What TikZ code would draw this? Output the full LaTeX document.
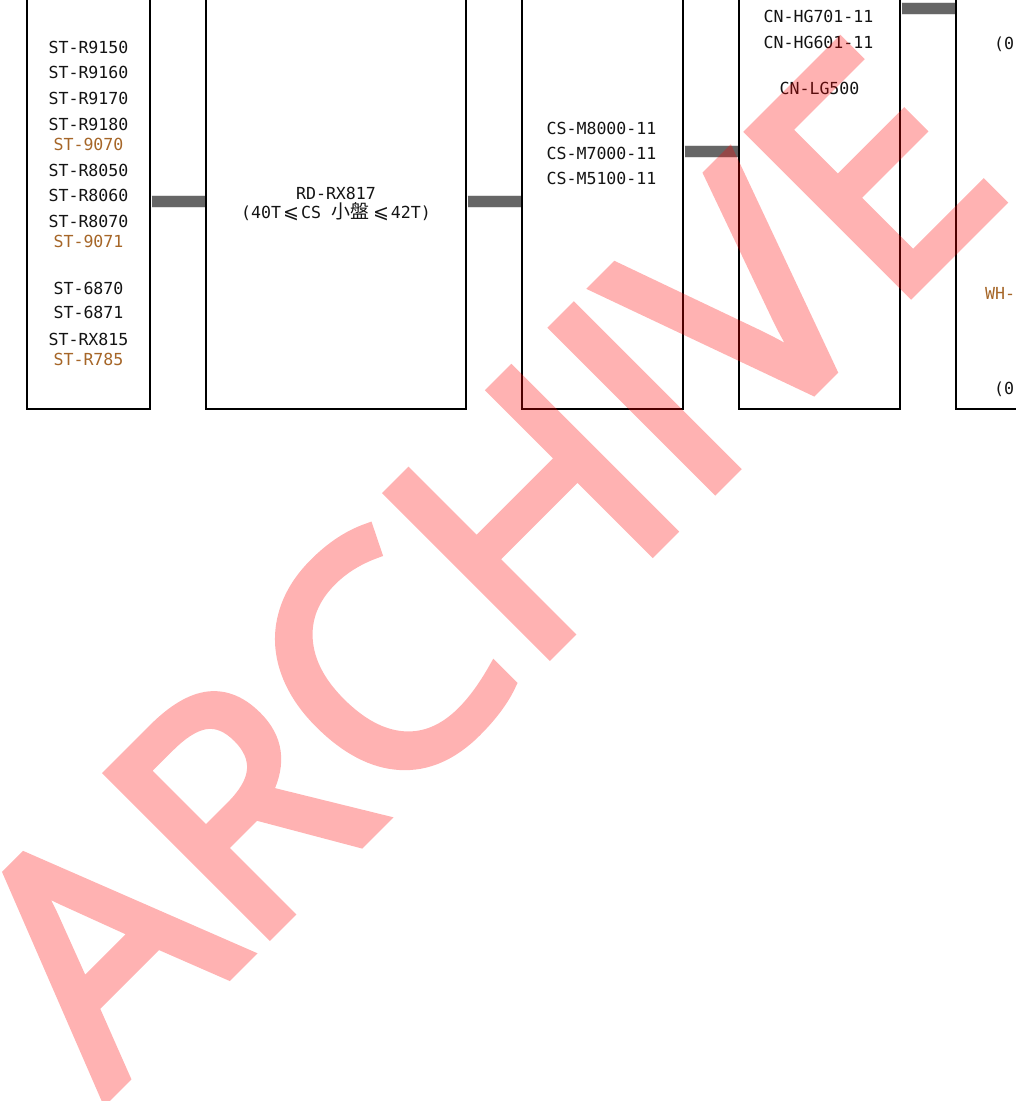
\documentclass[tikz,border=0pt]{standalone}
\usepackage{fontspec}
\newfontfamily\lblfont{DejaVu Sans Mono}
\newfontfamily\cjkfont{Noto Sans CJK TC}
\newfontfamily\symfont{DejaVu Sans}
\newfontfamily\wmfont[FakeBold=3.5]{Open Sans}
\definecolor{brn}{RGB}{166,102,40}
\definecolor{bargray}{RGB}{102,102,102}
\definecolor{ink}{RGB}{20,20,20}
\tikzset{
  box/.style={draw=black, line width=1.8pt, minimum height=416pt, inner sep=0pt, outer sep=0pt},
  lbl/.style={font=\lblfont\fontsize{16.6}{16.6}\selectfont, inner sep=0pt, text height=12pt, text depth=0pt, text=ink},
  bar/.style={line width=11pt, draw=bargray, shorten <=1.5pt, shorten >=1.5pt},
  barhalo/.style={line width=13pt, draw=black!12, shorten <=1.5pt, shorten >=1.5pt},
  wm/.style={font=\wmfont\fontsize{317}{317}\selectfont, text=red, inner sep=0pt, outer sep=0pt}
}
\newcommand{\leqsl}{\makebox[20pt]{\symfont\fontsize{19}{19}\selectfont ⩽}}
\begin{document}
\begin{tikzpicture}[x=1pt,y=-1pt]
\useasboundingbox (0,0) rectangle (1016,1101);
\clip (0,0) rectangle (1016,1101);
\fill[white] (0,0) rectangle (1016,1101);

% boxes
\node[box, minimum width=123pt] (b1) at (88.5,201) {};
\node[box, minimum width=260pt] (b2) at (336,201) {};
\node[box, minimum width=161pt] (b3) at (602.5,201) {};
\node[box, minimum width=161pt] (b4) at (819.5,201) {};
\node[box, minimum width=161pt] (b5) at (1036.5,201) {};

% connector bars
\draw[barhalo] (b1.east) -- (b2.west);
\draw[bar] (b1.east) -- (b2.west);
\draw[barhalo] (b2.east) -- (b3.west);
\draw[bar] (b2.east) -- (b3.west);
\draw[barhalo] ([yshift=50pt]b3.east) -- ([yshift=50pt]b4.west);
\draw[bar] ([yshift=50pt]b3.east) -- ([yshift=50pt]b4.west);
\draw[barhalo] ([yshift=193pt]b4.east) -- ([yshift=193pt]b5.west);
\draw[bar] ([yshift=193pt]b4.east) -- ([yshift=193pt]b5.west);

% box 1 labels
\foreach \yy/\tt/\cc [count=\i] in {
  47/ST-R9150/ink, 72/ST-R9160/ink, 98/ST-R9170/ink, 124/ST-R9180/ink,
  144/ST-9070/brn, 170/ST-R8050/ink, 195/ST-R8060/ink, 221/ST-R8070/ink,
  241/ST-9071/brn, 288/ST-6870/ink, 312/ST-6871/ink, 339/ST-RX815/ink,
  359/ST-R785/brn}
  \node[lbl, text=\cc, name=a\i] at (88.5,\yy) {\tt};

% box 2 labels
\node[lbl] (rd1) at (336,193) {RD-RX817};
\node[lbl] (rd2) at (336,212) {\makebox[10pt]{(}40T\leqsl CS\makebox[10pt]{}\makebox[40pt]{\cjkfont\fontsize{19}{19}\selectfont 小盤}\leqsl 42T\makebox[10pt]{)}};

% box 3 labels
\node[lbl] (cs1) at (601.5,128) {CS-M8000-11};
\node[lbl] (cs2) at (601.5,153) {CS-M7000-11};
\node[lbl] (cs3) at (601.5,178) {CS-M5100-11};

% box 4 labels
\node[lbl] (cn1) at (818.5,16) {CN-HG701-11};
\node[lbl] (cn2) at (818.5,42) {CN-HG601-11};
\node[lbl] (cn3) at (819.5,88) {CN-LG500};

% box 5 labels (cut by the edge)
\node[lbl, anchor=west] (e1) at (994,43) {(0.};
\node[lbl, anchor=west, text=brn] (e2) at (985,293) {WH-};
\node[lbl, anchor=west] (e3) at (994,388) {(0.};

% watermark
\begin{scope}[transparency group, opacity=0.3]
\node[wm, rotate=45, anchor=base west] (wmk) at (106,1097) {ARCHIVE};
\end{scope}
\end{tikzpicture}
\end{document}
